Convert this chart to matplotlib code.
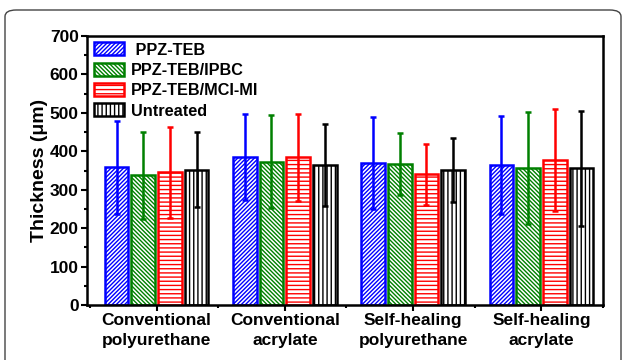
import matplotlib
matplotlib.use("Agg")
import matplotlib.pyplot as plt
from matplotlib.patches import FancyBboxPatch
from matplotlib.ticker import MultipleLocator, FixedLocator
import numpy as np

categories = ["Conventional\npolyurethane", "Conventional\nacrylate",
              "Self-healing\npolyurethane", "Self-healing\nacrylate"]
series = [" PPZ-TEB", "PPZ-TEB/IPBC", "PPZ-TEB/MCI-MI", "Untreated"]
means = {
    " PPZ-TEB":        [358, 386, 369, 365],
    "PPZ-TEB/IPBC":    [337, 373, 367, 357],
    "PPZ-TEB/MCI-MI":  [345, 384, 340, 378],
    "Untreated":       [352, 364, 352, 356],
}
errors = {
    " PPZ-TEB":        [120, 112, 120, 128],
    "PPZ-TEB/IPBC":    [113, 121, 80, 146],
    "PPZ-TEB/MCI-MI":  [119, 114, 80, 133],
    "Untreated":       [98, 106, 83, 150],
}
colors = ["#0000ff", "#008000", "#ff0000", "#000000"]
hatches = ["////////", "\\" * 8, "----", "||||"]
yticks = [0, 100, 200, 300, 400, 500, 600, 700]

plt.rcParams['font.family'] = ['Liberation Sans', 'DejaVu Sans']
plt.rcParams['font.weight'] = 'bold'
plt.rcParams['hatch.linewidth'] = 1.0

fig = plt.figure(figsize=(6.24, 3.6), dpi=100)
ax = fig.add_axes([87/624, 1-305/360, (603-87)/624, (305-36)/360])

# figure frame (rounded, runs off the bottom edge)
frame = FancyBboxPatch((5/624, -0.3), (621-5)/624, 1.3 - 10/360, transform=fig.transFigure,
                       boxstyle="round,pad=0,rounding_size=0.018", fill=False,
                       edgecolor="#444444", linewidth=1.0, clip_on=False)
fig.patches.append(frame)

x = np.arange(1, len(categories) + 1)
width = 0.183
step = 0.208
for i, s in enumerate(series):
    pos = x + (i - 1.5) * step + 0.02
    ax.bar(pos, means[s], width, color="white", edgecolor=colors[i],
           hatch=hatches[i], linewidth=1.8, label=s, zorder=2)
    ax.errorbar(pos, means[s], yerr=errors[s], fmt="none", ecolor=colors[i],
                elinewidth=1.8, capsize=2.5, capthick=1.8, zorder=3)

ax.set_xlim(0.478, 4.5)
ax.set_ylim(0, 700)
ax.set_yticks(yticks)
ax.yaxis.set_minor_locator(MultipleLocator(50))
ax.set_xticks(x + 0.02)
ax.set_xticklabels(categories, fontsize=12.5, fontweight='bold', linespacing=1.35)
ax.xaxis.set_minor_locator(FixedLocator([0.5, 1.5, 2.5, 3.5, 4.5]))
ax.tick_params(axis='both', which='major', direction='out', length=4, width=1.5,
               labelsize=12.5, pad=2)
ax.tick_params(axis='both', which='minor', direction='out', length=2.5, width=1.5)
for lab in ax.get_yticklabels():
    lab.set_fontweight('bold')
for sp in ax.spines.values():
    sp.set_linewidth(1.8)
ax.set_ylabel("Thickness (μm)", fontsize=14, fontweight='bold', labelpad=1)

leg = ax.legend(loc="upper left", bbox_to_anchor=(0.0, 1.0), frameon=False,
                prop={'weight': 'bold', 'size': 11.7}, handlelength=1.9,
                handleheight=0.85, labelspacing=0.32, handletextpad=0.4,
                borderaxespad=0.2, borderpad=0.2)

fig.savefig("out.png", dpi=100)
